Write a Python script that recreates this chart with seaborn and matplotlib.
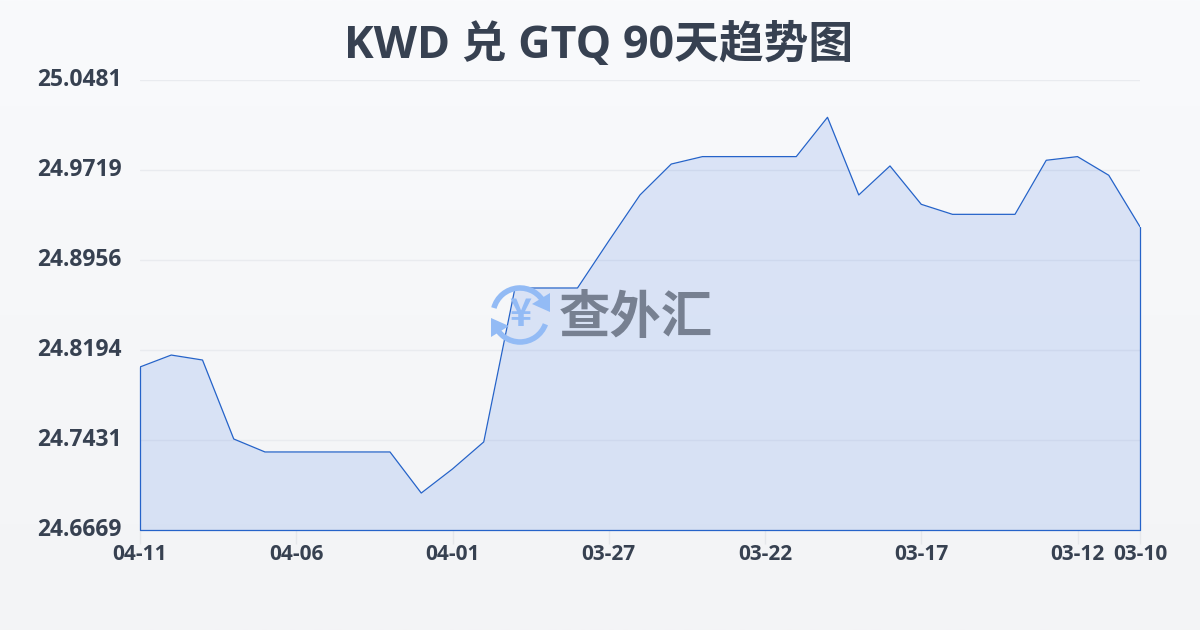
import numpy as np
import pandas as pd
import matplotlib
matplotlib.use("Agg")
import matplotlib.pyplot as plt
from matplotlib.patches import Arc, Polygon
import seaborn as sns

dates = ["04-11","04-10","04-09","04-08","04-07","04-06","04-05","04-04","04-03","04-02","04-01",
         "03-31","03-30","03-29","03-28","03-27","03-26","03-25","03-24","03-23","03-22","03-21",
         "03-20","03-19","03-18","03-17","03-16","03-15","03-14","03-13","03-12","03-11","03-10"]
rates = [24.8050,24.8151,24.8109,24.7440,24.7330,24.7330,24.7330,24.7330,24.7330,24.6982,24.7186,
         24.7415,24.8719,24.8719,24.8719,24.9117,24.9507,24.9769,24.9832,24.9832,24.9832,24.9832,
         25.0165,24.9507,24.9753,24.9428,24.9343,24.9343,24.9343,24.9801,24.9832,24.9674,24.9238]
y_ticks = [24.6669,24.7431,24.8194,24.8956,24.9719,25.0481]
x_tick_idx = [0,5,10,15,20,25,30,32]
title = "KWD 兑 GTQ 90天趋势图"
watermark = "查外汇"

sns.set_theme(style="white")
LATIN = ["Open Sans", "Noto Sans CJK SC", "DejaVu Sans"]
plt.rcParams["font.family"] = LATIN

DARK = "#374151"
BLUE = "#2563c9"
df = pd.DataFrame({"i": np.arange(len(rates)), "rate": rates})

fig = plt.figure(figsize=(12, 6.3), dpi=100)
bg = fig.add_axes([0, 0, 1, 1], zorder=0)
bg.axis("off")
grad = np.linspace(0, 1, 256)[:, None, None]
top = np.array([0xf9, 0xfa, 0xfc]) / 255
bot = np.array([0xf3, 0xf4, 0xf6]) / 255
bg.imshow(top + (bot - top) * grad, aspect="auto", extent=[0, 1, 0, 1])

ax = fig.add_axes([140/1200, 1-530/630, 1000/1200, 450/630], zorder=1)
ax.patch.set_alpha(0)
ax.set_xlim(0, len(rates)-1)
ax.set_ylim(y_ticks[0], y_ticks[-1])

ax.fill_between(df["i"], df["rate"], y_ticks[0], facecolor="#3570e4", alpha=0.15, lw=0, zorder=3)
sns.lineplot(data=df, x="i", y="rate", ax=ax, color=BLUE, lw=0.9, zorder=5, errorbar=None)
ax.plot([0, 0, len(rates)-1, len(rates)-1], [rates[0], y_ticks[0], y_ticks[0], rates[-1]],
        color=BLUE, lw=0.9, zorder=5, clip_on=False)

ax.set_xlabel(""); ax.set_ylabel("")
for s in ax.spines.values():
    s.set_visible(False)
ax.set_yticks(y_ticks)
ax.set_yticklabels([f"{v:.4f}" for v in y_ticks], fontsize=16.5, color=DARK, fontweight="bold")
ax.set_xticks(x_tick_idx)
ax.set_xticklabels([dates[i] for i in x_tick_idx], fontsize=15, color=DARK, fontweight="bold")
ax.grid(axis="y", color="#e9ebef", lw=1, zorder=1)
ax.tick_params(axis="y", length=0, pad=13)
ax.tick_params(axis="x", length=10, color="#e5e7eb", width=1, pad=0, bottom=True)
for lab in ax.get_yticklabels():
    lab.set_verticalalignment("center")

fig.text(599/1200, 1-46/630, title, ha="center", va="center", fontsize=32.2,
         fontweight="bold", color=DARK, zorder=6)

# watermark logo, drawn in pixel coordinates on an overlay
ov = fig.add_axes([0, 0, 1, 1], zorder=2)
ov.axis("off")
ov.set_xlim(0, 1200); ov.set_ylim(630, 0)
LOGO = "#93bbf5"
ov.add_patch(Arc((520, 315), 54, 54, theta1=195, theta2=335, color=LOGO, lw=4))
ov.add_patch(Arc((520, 315), 54, 54, theta1=20, theta2=160, color=LOGO, lw=4))
ov.add_patch(Polygon([[550, 293], [550, 312], [532, 304]], closed=True, color=LOGO, lw=0))
ov.add_patch(Polygon([[491, 318], [509, 326], [491, 337]], closed=True, color=LOGO, lw=0))
ov.text(520, 314, "¥", ha="center", va="center", fontsize=27, fontweight="bold", color=LOGO,
        family=["Noto Sans CJK SC", "DejaVu Sans"])
ov.text(636, 318, watermark, ha="center", va="center", fontsize=37, fontweight="bold",
        color="#778091", family=["Noto Sans CJK SC", "DejaVu Sans"])

fig.savefig("out.png", dpi=100)
